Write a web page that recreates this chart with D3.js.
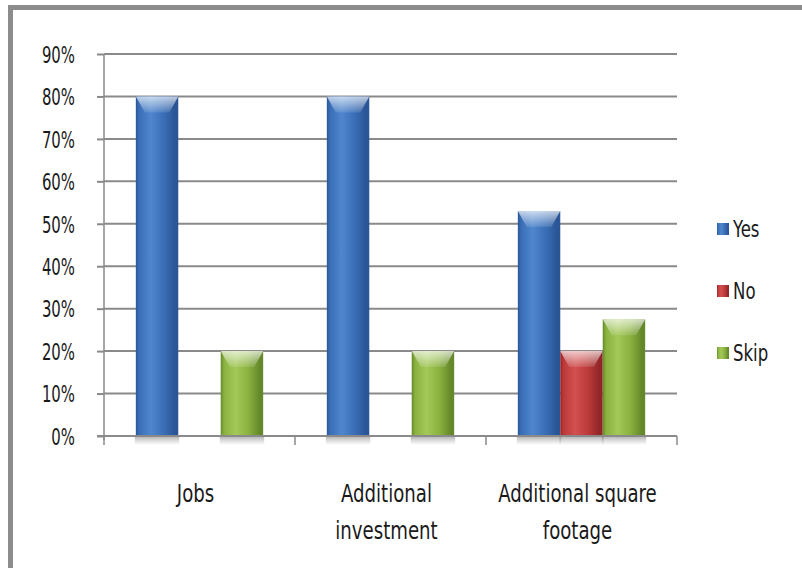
<!DOCTYPE html>
<html><head><meta charset="utf-8">
<script src="https://cdn.jsdelivr.net/npm/d3@7"></script>
<style>
body{margin:0;background:#fff;}
text{font-family:"DejaVu Sans Condensed","DejaVu Sans",sans-serif;fill:#1a1a1a;}
</style></head>
<body><svg id="c" width="802" height="568"></svg>
<script>
const categories = [["Jobs"], ["Additional", "investment"], ["Additional square", "footage"]];
const seriesNames = ["Yes", "No", "Skip"];
const yes = [0.80, 0.80, 0.53];
const no = [0, 0, 0.20];
const skip = [0.20, 0.20, 0.275];
const yTicks = [0, 0.1, 0.2, 0.3, 0.4, 0.5, 0.6, 0.7, 0.8, 0.9];
const colors = {Yes:["#2a5596","#4f86cc","#3a6fb8"], No:["#922628","#d25050","#bd3a3a"], Skip:["#64882a","#a3c959","#8ab23f"]};

const svg = d3.select("#c");
const defs = svg.append("defs");
seriesNames.forEach(s=>{
  const [d,l,b] = colors[s];
  const g = defs.append("linearGradient").attr("id","g"+s).attr("x1","0").attr("x2","1").attr("y1","0").attr("y2","0");
  [[0,d],[0.08,b],[0.35,l],[0.65,b],[0.92,d],[1,d]].forEach(([o,c])=>g.append("stop").attr("offset",o).attr("stop-color",c));
  const t = defs.append("linearGradient").attr("id","t"+s).attr("x1","0").attr("x2","0").attr("y1","0").attr("y2","1");
  t.append("stop").attr("offset",0).attr("stop-color","#fff").attr("stop-opacity",0.7);
  t.append("stop").attr("offset",1).attr("stop-color","#fff").attr("stop-opacity",0.1);
});
const sh = defs.append("linearGradient").attr("id","shadow").attr("x1","0").attr("x2","0").attr("y1","0").attr("y2","1");
sh.append("stop").attr("offset",0).attr("stop-color","#777").attr("stop-opacity",0.6);
sh.append("stop").attr("offset",1).attr("stop-color","#999").attr("stop-opacity",0);

function condense(sel, f){
  sel.each(function(){ const n=this; const L=n.getComputedTextLength(); if(L>0){ d3.select(n).attr("textLength",L*f).attr("lengthAdjust","spacingAndGlyphs"); } });
}

// frame
svg.append("rect").attr("x",8).attr("y",5).attr("width",794).attr("height",5).attr("fill","#8c8c8c");
svg.append("rect").attr("x",8).attr("y",5).attr("width",5).attr("height",563).attr("fill","#8c8c8c");

const x0 = d3.scaleBand().domain(d3.range(categories.length)).range([104,677]).padding(0);
const bw = x0.bandwidth()/4.5;
const x1 = d3.scaleBand().domain(seriesNames).range([x0.bandwidth()*0.75/4.5, x0.bandwidth()*0.75/4.5 + 3*bw]).padding(0);
const y = d3.scaleLinear().domain([0,0.9]).range([436,54]);

// gridlines
svg.append("g").selectAll("line").data(yTicks.filter(t=>t>0)).join("line")
  .attr("x1",104).attr("x2",677).attr("y1",d=>y(d)).attr("y2",d=>y(d))
  .attr("stroke","#8a8a8a").attr("stroke-width",2);

// y axis
const ya = svg.append("g").attr("transform","translate(104,0)")
  .call(d3.axisLeft(y).tickValues(yTicks).tickFormat(d3.format(".0%")).tickSize(7).tickPadding(22));
ya.select(".domain").attr("stroke","#8a8a8a").attr("stroke-width",1.5).attr("d","M0,54V440");
ya.selectAll(".tick line").attr("stroke","#8a8a8a").attr("stroke-width",2);
ya.selectAll(".tick text").attr("font-size",23).attr("fill","#1a1a1a").attr("dy","0.36em")
  .style("font-family",'"DejaVu Sans Condensed","DejaVu Sans",sans-serif');
condense(ya.selectAll(".tick text"), 0.72);

// bars
const data = seriesNames.map((s,i)=>({s, vals:[yes,no,skip][i]}));
const bars = [];
data.forEach(d=>d.vals.forEach((v,c)=>{ if(v>0) bars.push({s:d.s,c,v}); }));
svg.append("g").selectAll("rect").data(bars).join("rect")
  .attr("x",d=>x0(d.c)+x1(d.s)-1).attr("y",436).attr("width",bw+2).attr("height",9).attr("fill","url(#shadow)");
const bg = svg.append("g").selectAll("g").data(bars).join("g");
bg.append("rect").attr("x",d=>x0(d.c)+x1(d.s)).attr("y",d=>y(d.v)).attr("width",bw).attr("height",d=>y(0)-y(d.v))
  .attr("fill",d=>"url(#g"+d.s+")");
bg.append("path").attr("d",d=>{const xl=x0(d.c)+x1(d.s), yt=y(d.v);
  return `M${xl},${yt}H${xl+bw}L${xl+bw-9},${yt+16}H${xl+9}Z`;}).attr("fill",d=>"url(#t"+d.s+")");

// baseline
svg.append("line").attr("x1",97).attr("x2",677).attr("y1",436).attr("y2",436).attr("stroke","#8a8a8a").attr("stroke-width",2);
svg.append("g").selectAll("line").data(d3.range(categories.length+1)).join("line")
  .attr("x1",d=>d<categories.length?x0(d):677).attr("x2",d=>d<categories.length?x0(d):677)
  .attr("y1",436).attr("y2",445).attr("stroke","#8a8a8a").attr("stroke-width",1.5);

// x labels
const xl = svg.append("g").selectAll("text").data(categories).join("text")
  .attr("text-anchor","middle").attr("font-size",24)
  .attr("transform",(d,i)=>`translate(${x0(i)+x0.bandwidth()/2-4},502)`);
xl.selectAll("tspan").data(d=>d).join("tspan").attr("x",0).attr("dy",(d,i)=>i?37:0).text(d=>d);
xl.each(function(){
  d3.select(this).selectAll("tspan").each(function(){
    const L=this.getComputedTextLength(); d3.select(this).attr("textLength",L*0.84).attr("lengthAdjust","spacingAndGlyphs");
  });
});

// legend
const lg = svg.append("g").selectAll("g").data(seriesNames).join("g")
  .attr("transform",(d,i)=>`translate(717,${229+i*62})`);
lg.append("rect").attr("x",0).attr("y",-6).attr("width",12).attr("height",12).attr("fill",d=>"url(#g"+d+")");
const lt = lg.append("text").attr("x",16).attr("y",8).attr("font-size",23).text(d=>d);
condense(lt, 0.8);
</script></body></html>
